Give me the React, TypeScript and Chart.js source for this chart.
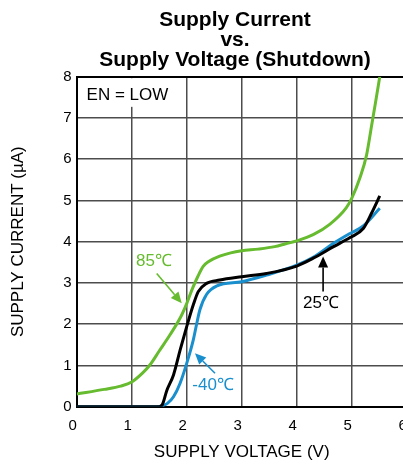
import React, { useEffect, useRef } from "react";
import { Chart, registerables } from "chart.js";

Chart.register(...registerables);

const FONT = "'Liberation Sans', Arial, Helvetica, sans-serif";

const titleLines = ["Supply Current", "vs.", "Supply Voltage (Shutdown)"];
const xTitle = "SUPPLY VOLTAGE (V)";
const yTitle = "SUPPLY CURRENT (µA)";

// 85°C curve
const v85 = [0, 0.5, 0.8, 1.0, 1.2, 1.33, 1.5, 1.7, 1.9, 2.0, 2.1, 2.2, 2.3, 2.4, 2.6, 2.8, 3.0, 3.3, 3.6, 3.8, 4.0, 4.3, 4.6, 4.9, 5.0, 5.15, 5.27, 5.36, 5.43, 5.51];
const i85 = [0.31, 0.42, 0.5, 0.6, 0.82, 1.01, 1.35, 1.75, 2.2, 2.5, 2.85, 3.15, 3.4, 3.52, 3.65, 3.73, 3.78, 3.82, 3.88, 3.95, 4.02, 4.17, 4.42, 4.82, 5.05, 5.55, 6.1, 6.8, 7.35, 8.0];

// 25°C curve
const v25 = [0, 1.5, 1.56, 1.64, 1.76, 1.88, 2.0, 2.12, 2.21, 2.36, 2.6, 3.0, 3.45, 4.0, 4.3, 4.67, 4.97, 5.21, 5.36, 5.51];
const i25 = [0, 0, 0.06, 0.4, 0.77, 1.37, 1.94, 2.47, 2.79, 2.99, 3.07, 3.15, 3.23, 3.41, 3.6, 3.88, 4.1, 4.32, 4.69, 5.11];

// -40°C curve
const vM40 = [0, 1.45, 1.55, 1.65, 1.76, 1.88, 2.0, 2.12, 2.18, 2.24, 2.36, 2.55, 3.0, 3.45, 4.0, 4.3, 4.67, 4.97, 5.21, 5.51];
const iM40 = [0, 0, 0.02, 0.08, 0.24, 0.57, 1.05, 1.62, 2.0, 2.35, 2.72, 2.93, 3.03, 3.19, 3.43, 3.62, 3.96, 4.2, 4.38, 4.81];

// annotations (data units)
const labelTexts = ["85℃", "-40℃", "25℃"];
const labelColors = ["#66bb2e", "#1a8fce", "#000000"];
const labelV = [1.405, 2.48, 4.44];
const labelI = [3.515, 0.525, 2.51];
const arrowFromV = [1.455, 2.515, 4.48];
const arrowFromI = [3.23, 0.81, 2.79];
const arrowToV = [1.91, 2.15, 4.48];
const arrowToI = [2.51, 1.295, 3.64];
const noteText = "EN = LOW";
const noteV = 0.18;
const noteI = 7.56;

const GREEN = "#66bb2e";
const BLUE = "#1a8fce";
const BLACK = "#000000";
const GRID = "#4d4d4d";

const toPts = (xs: number[], ys: number[]) => xs.map((x, k) => ({ x, y: ys[k] }));

const notePlugin = {
  id: "notePlugin",
  beforeDatasetsDraw(chart: any) {
    const { ctx, scales, chartArea } = chart;
    const x = scales.x.getPixelForValue(noteV);
    const y = scales.y.getPixelForValue(noteI);
    ctx.save();
    ctx.font = `17px ${FONT}`;
    const w = ctx.measureText(noteText).width;
    ctx.fillStyle = "#ffffff";
    ctx.fillRect(x - 4, chartArea.top + 1.5, w + 8, y + 12 - chartArea.top - 1.5);
    ctx.fillStyle = "#000";
    ctx.textAlign = "left";
    ctx.textBaseline = "middle";
    ctx.fillText(noteText, x, y);
    ctx.restore();
  },
  afterDatasetsDraw(chart: any) {
    const { ctx, scales } = chart;
    ctx.save();
    for (let k = 0; k < labelTexts.length; k++) {
      const col = labelColors[k];
      const x0 = scales.x.getPixelForValue(arrowFromV[k]);
      const y0 = scales.y.getPixelForValue(arrowFromI[k]);
      const x1 = scales.x.getPixelForValue(arrowToV[k]);
      const y1 = scales.y.getPixelForValue(arrowToI[k]);
      const ang = Math.atan2(y1 - y0, x1 - x0);
      const hl = 11, hw = 5;
      const bx = x1 - hl * Math.cos(ang);
      const by = y1 - hl * Math.sin(ang);
      ctx.strokeStyle = col;
      ctx.fillStyle = col;
      ctx.lineWidth = 1.6;
      ctx.beginPath();
      ctx.moveTo(x0, y0);
      ctx.lineTo(bx, by);
      ctx.stroke();
      ctx.beginPath();
      ctx.moveTo(x1, y1);
      ctx.lineTo(bx + hw * Math.sin(ang), by - hw * Math.cos(ang));
      ctx.lineTo(bx - hw * Math.sin(ang), by + hw * Math.cos(ang));
      ctx.closePath();
      ctx.fill();
      ctx.font = `17px ${FONT}`;
      ctx.textAlign = "center";
      ctx.textBaseline = "middle";
      ctx.fillText(labelTexts[k], scales.x.getPixelForValue(labelV[k]), scales.y.getPixelForValue(labelI[k]));
    }
    ctx.restore();
  },
};

export default function App() {
  const ref = useRef<HTMLCanvasElement>(null);
  useEffect(() => {
    const chart = new Chart(ref.current as HTMLCanvasElement, {
      type: "line",
      data: {
        datasets: [
          { label: "25℃", data: toPts(v25, i25), borderColor: BLACK, borderWidth: 3, pointRadius: 0, cubicInterpolationMode: "monotone", fill: false },
          { label: "-40℃", data: toPts(vM40, iM40), borderColor: BLUE, borderWidth: 3, pointRadius: 0, cubicInterpolationMode: "monotone", fill: false },
          { label: "85℃", data: toPts(v85, i85), borderColor: GREEN, borderWidth: 3, pointRadius: 0, cubicInterpolationMode: "monotone", fill: false },
        ],
      },
      options: {
        animation: false,
        responsive: false,
        maintainAspectRatio: false,
        layout: { padding: 0 },
        plugins: {
          legend: { display: false },
          tooltip: { enabled: false },
          title: {
            display: true,
            text: titleLines,
            color: "#000",
            font: { family: FONT, size: 21, weight: "bold", lineHeight: "20px" },
            padding: { top: 10.2, bottom: 6.5 },
          },
        },
        scales: {
          x: {
            type: "linear",
            min: 0,
            max: 6,
            afterFit: (s: any) => { s.height = 57.3; },
            ticks: { stepSize: 1, color: "#000", font: { family: FONT, size: 15 }, padding: 10, labelOffset: -4, maxRotation: 0 },
            grid: { color: GRID, lineWidth: 1.5, drawTicks: false },
            border: { display: true, color: "#000", width: 2 },
            title: { display: true, text: xTitle, color: "#000", font: { family: FONT, size: 17 }, padding: { top: 0, bottom: 1.3 } },
          },
          y: {
            type: "linear",
            min: 0,
            max: 8,
            afterFit: (s: any) => { s.width = 76.7; },
            ticks: { stepSize: 1, color: "#000", font: { family: FONT, size: 15 }, padding: 5 },
            grid: {
              color: (c: any) => (c.tick && c.tick.value === 8 ? "#000" : GRID),
              lineWidth: (c: any) => (c.tick && c.tick.value === 8 ? 2 : 1.5),
              drawTicks: false,
            },
            border: { display: true, color: "#000", width: 2 },
            title: { display: true, text: yTitle, color: "#000", font: { family: FONT, size: 17 }, padding: { top: 8.6, bottom: 0 } },
          },
          y2: {
            type: "linear",
            position: "right",
            min: 0,
            max: 8,
            afterFit: (s: any) => { s.width = 63.3; },
            ticks: { display: false },
            grid: { display: false, drawTicks: false },
            border: { display: false },
          },
        },
      } as any,
      plugins: [notePlugin],
    });
    return () => chart.destroy();
  }, []);
  return (
    <div style={{ position: "fixed", left: 0, top: 0, width: 403, height: 464, overflow: "hidden", background: "#fff" }}>
      <canvas ref={ref} width={470} height={464} style={{ display: "block", width: 470, height: 464 }} />
    </div>
  );
}
